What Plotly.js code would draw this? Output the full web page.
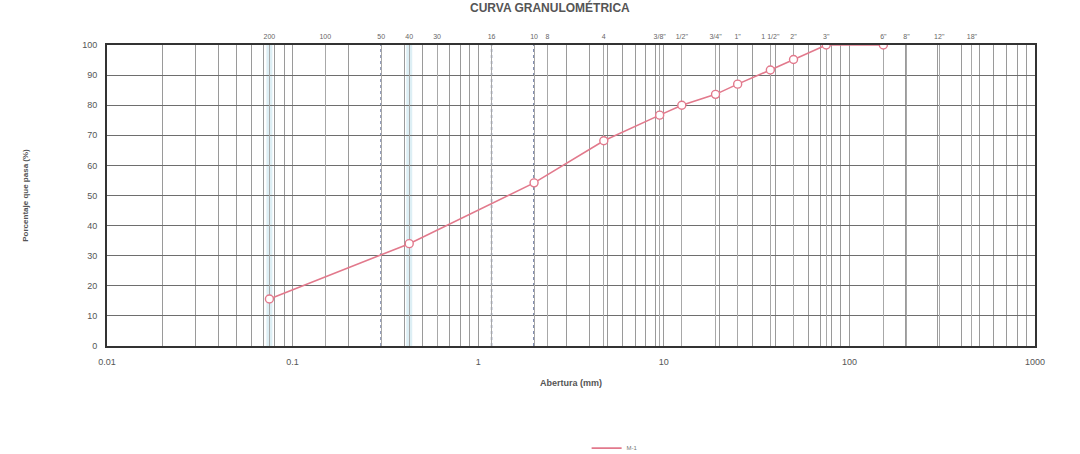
<!DOCTYPE html>
<html>
<head>
<meta charset="utf-8">
<script src="https://cdn.plot.ly/plotly-3.0.1.min.js"></script>
<style>html,body{margin:0;padding:0;background:#fff;}#chart{width:1080px;height:454px;}</style>
</head>
<body>
<div id="chart"></div>
<script>
// Data (sieve opening in mm, % passing)
const aberturaMm = [0.075, 0.425, 2.0, 4.75, 9.5, 12.5, 19.0, 25.0, 37.5, 50.0, 75.0, 152.4];
const pasaPct    = [15.6, 34.0, 54.2, 68.2, 76.7, 80.0, 83.6, 87.0, 91.7, 95.2, 100, 100];

// Sieve designations shown on the top axis
const tamizSizes  = [0.075, 0.15, 0.3, 0.425, 0.6, 1.18, 2.0, 2.36, 4.75, 9.5, 12.5, 19.0, 25.0, 37.5, 50.0, 75.0, 152.4, 203.2, 304.8, 457.2];
const tamizLabels = ['200','100','50','40','30','16','10','8','4','3/8"','1/2"','3/4"','1"','1 1/2"','2"','3"','6"','8"','12"','18"'];

// Highlighted sieves (dashed lines)
const tamicesMarcados = [0.3, 1.18, 2.0];

// Bottom axis decade labels
const decadas = [0.01, 0.1, 1, 10, 100, 1000];
const decadaLabels = ['0.01','0.1','1','10','100','1000'];

// log grid values (1..9 per decade)
const gridVals = [], gridText = [];
for (let d = 0; d < decadas.length; d++) {
  for (let m = 1; m <= 9; m++) {
    if (d === decadas.length - 1 && m > 1) break;
    gridVals.push(decadas[d] * m);
    gridText.push(m === 1 ? decadaLabels[d] : '');
  }
}

const lineColor = '#e2798c';

const traces = [
  {
    x: aberturaMm, y: pasaPct, type: 'scatter', mode: 'lines',
    name: 'M-1', xaxis: 'x', yaxis: 'y',
    line: {color: lineColor, width: 1.6}
  },
  {
    x: aberturaMm, y: pasaPct, type: 'scatter', mode: 'markers',
    showlegend: false, xaxis: 'x', yaxis: 'y',
    marker: {symbol: 'circle', size: 8, color: '#ffffff', line: {color: lineColor, width: 1.4}}
  },
  {
    x: tamizSizes, y: tamizSizes.map(() => null), type: 'scatter', mode: 'markers',
    xaxis: 'x2', yaxis: 'y', showlegend: false, hoverinfo: 'skip',
    marker: {opacity: 0}
  }
];

const shapes = [];
tamicesMarcados.forEach(v => shapes.push({
  type: 'line', xref: 'x', yref: 'paper', x0: v, x1: v, y0: 0, y1: 1,
  line: {color: '#2a3f7a', width: 1.3, dash: 'dot'}, layer: 'below'
}));
[0.075, 0.425].forEach(v => shapes.push({
  type: 'line', xref: 'x', yref: 'paper', x0: v, x1: v, y0: 0, y1: 1,
  line: {color: 'rgba(180,220,232,0.45)', width: 6}, layer: 'below'
}));

const layout = {
  width: 1080, height: 454,
  paper_bgcolor: '#ffffff', plot_bgcolor: '#ffffff',
  font: {family: 'Liberation Sans, Arial, sans-serif', color: '#444', size: 9},
  margin: {l: 107, r: 45, t: 45, b: 108, autoexpand: false},
  annotations: [{
    text: '<b>CURVA GRANULOMÉTRICA</b>', xref: 'paper', yref: 'paper',
    x: 0.477, y: 1.125, xanchor: 'center', yanchor: 'middle', showarrow: false,
    font: {size: 12, color: '#555', family: 'Liberation Sans, Arial, sans-serif'}
  }],
  showlegend: true,
  legend: {orientation: 'h', x: 0.547, xanchor: 'center', yref: 'container', y: 0.013, yanchor: 'middle',
           font: {size: 6, color: '#777'}, bgcolor: 'rgba(0,0,0,0)', itemwidth: 30},
  xaxis: {
    type: 'log', range: [-2, 3], automargin: false,
    tickmode: 'array', tickvals: gridVals, ticktext: gridText,
    ticks: '', ticklabelstandoff: 6, showgrid: true, gridcolor: '#9a9a9a', gridwidth: 1,
    showline: true, linecolor: '#333', linewidth: 2, mirror: true,
    zeroline: false, tickfont: {size: 9, color: '#555'},
    title: {text: '<b>Abertura (mm)</b>', font: {size: 9, color: '#555'}, standoff: 14}
  },
  xaxis2: {
    type: 'log', range: [-2, 3], overlaying: 'x', side: 'top', automargin: false,
    tickmode: 'array', tickvals: tamizSizes, ticktext: tamizLabels,
    ticks: '', ticklabelstandoff: 4, showgrid: true, gridcolor: '#a8a8a8', gridwidth: 1,
    showline: false, zeroline: false, tickfont: {size: 7, color: '#666'}
  },
  yaxis: {
    range: [0, 100], dtick: 10, tick0: 0, automargin: false,
    ticks: '', ticklabelstandoff: 6, showgrid: true, gridcolor: '#6e6e6e', gridwidth: 1,
    showline: true, linecolor: '#333', linewidth: 2, mirror: true,
    zeroline: false, tickfont: {size: 9, color: '#555'},
    title: {text: '<b>Porcentaje que pasa (%)</b>', font: {size: 8, color: '#555'}, standoff: 52}
  },
  shapes: shapes
};

Plotly.newPlot('chart', traces, layout, {displayModeBar: false, staticPlot: true});
</script>
</body>
</html>
